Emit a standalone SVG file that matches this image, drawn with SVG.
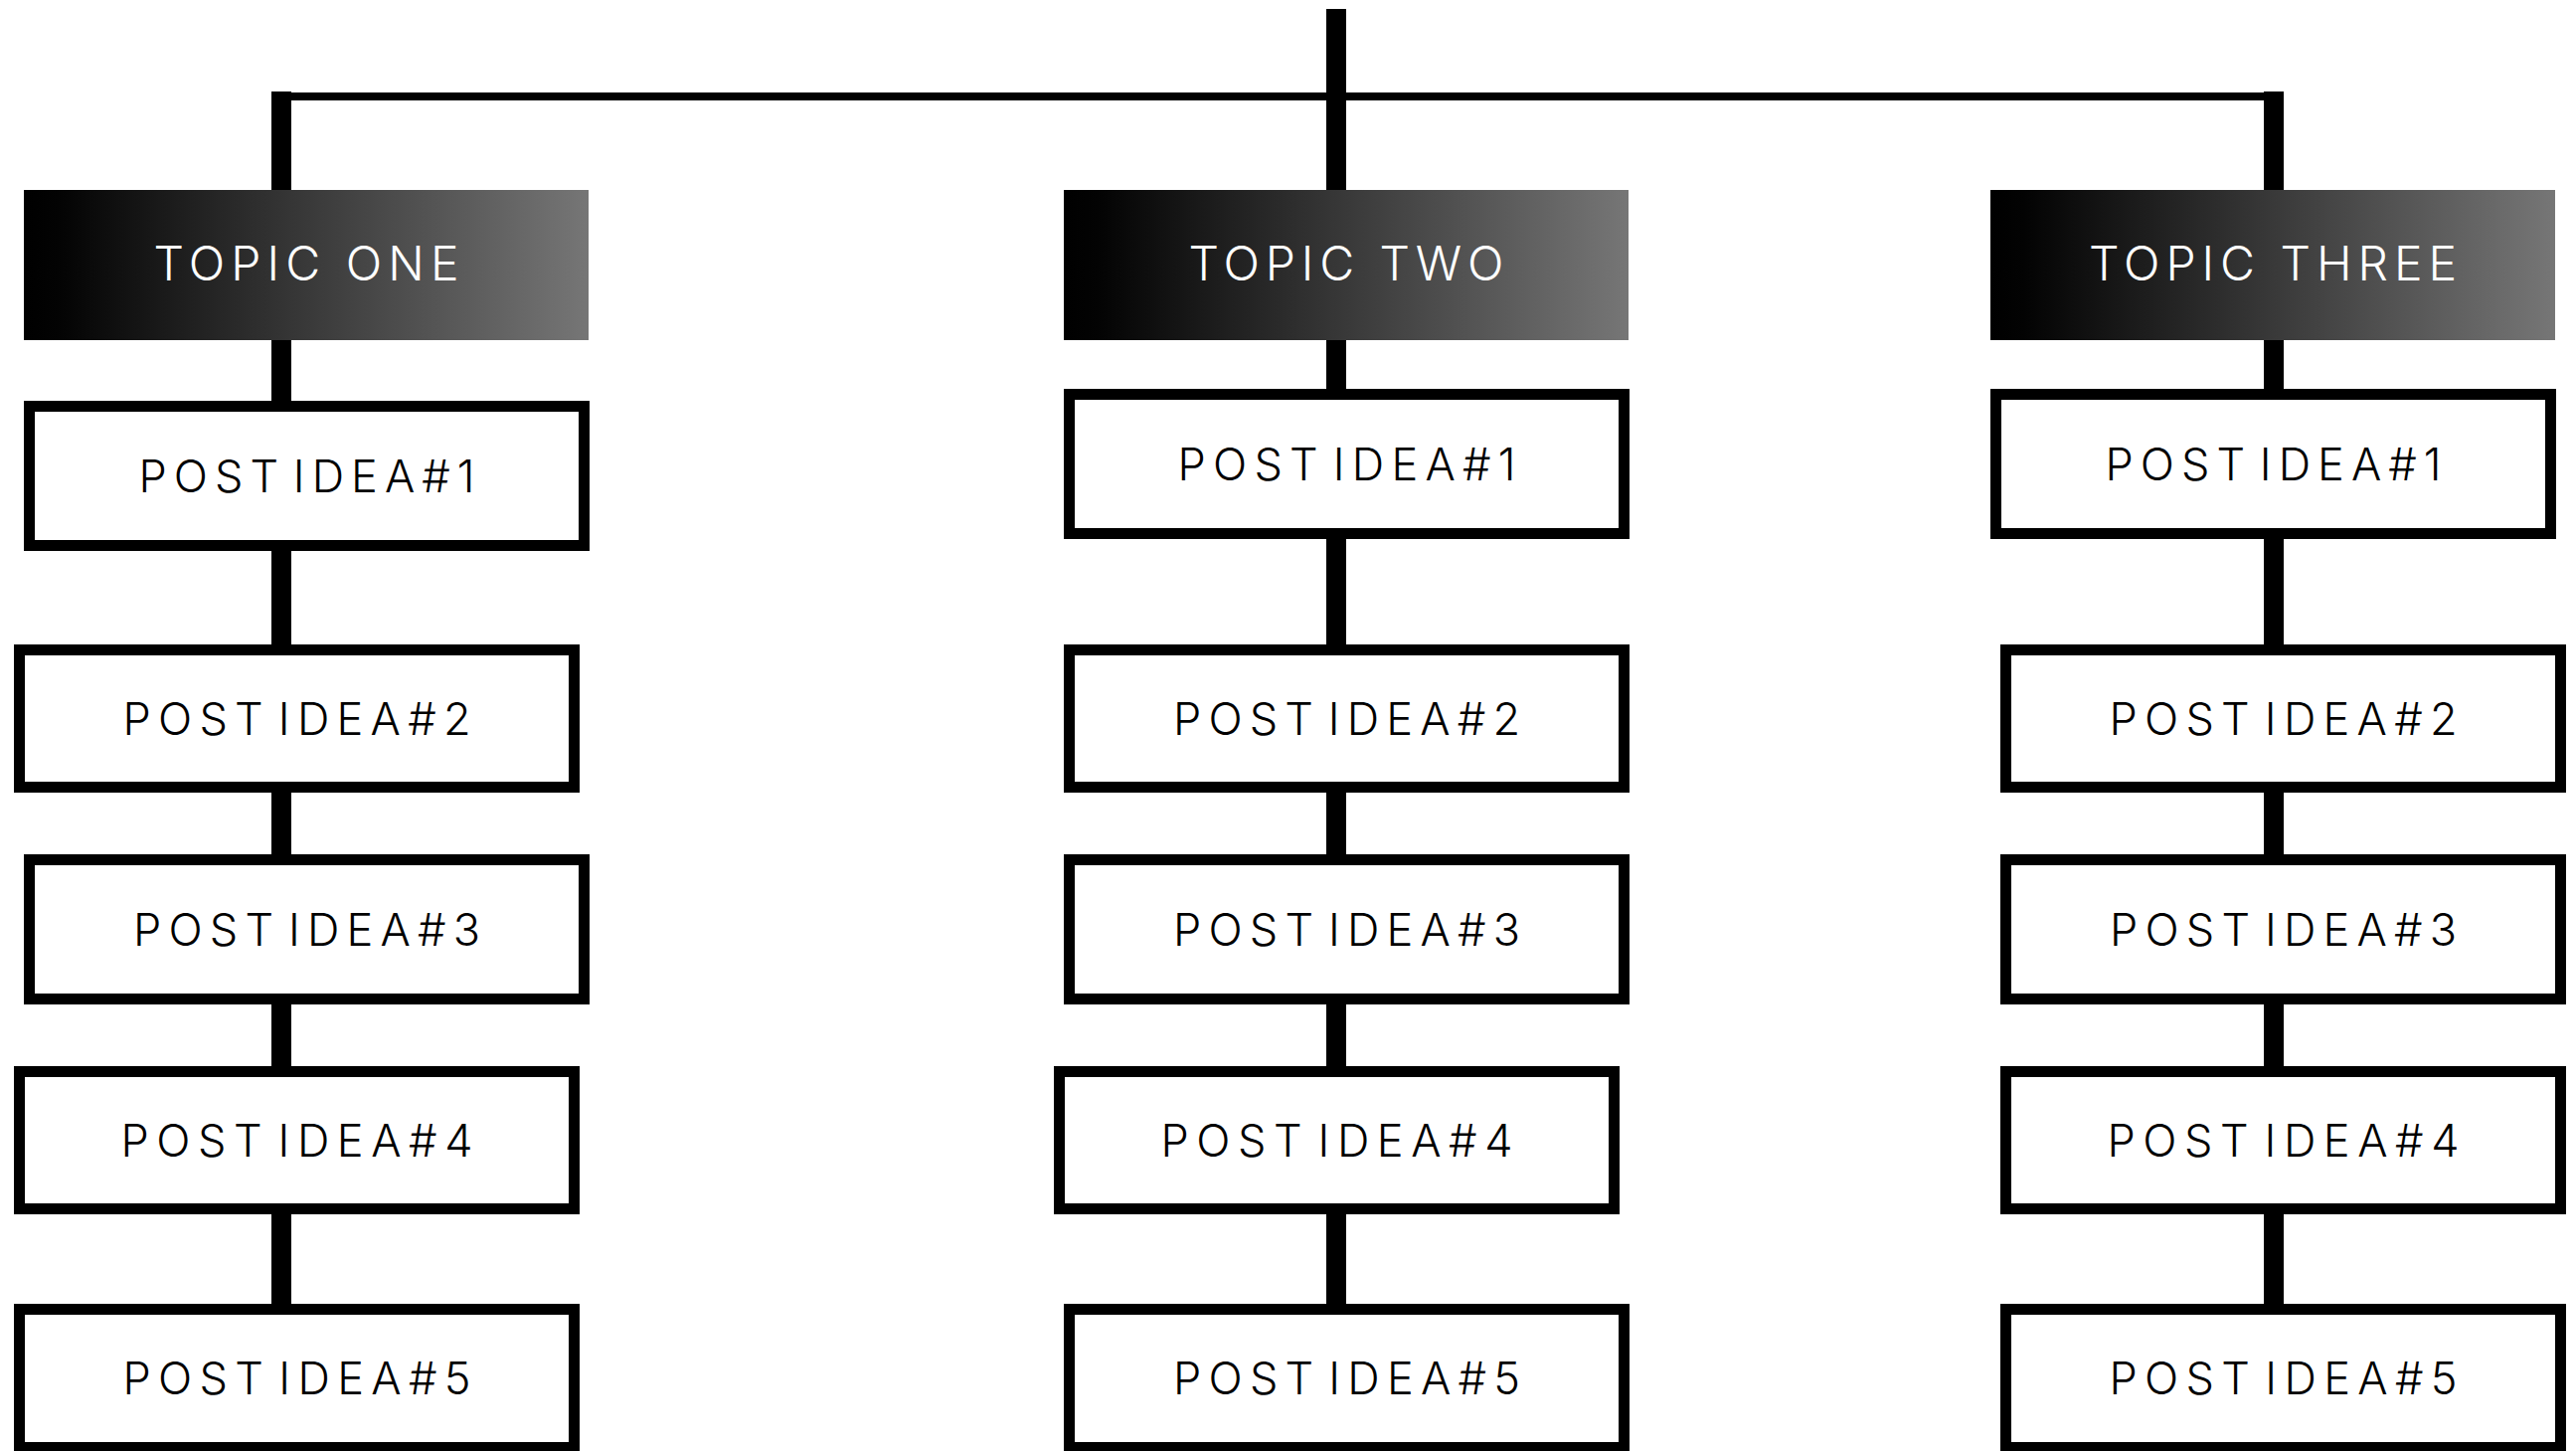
<svg xmlns="http://www.w3.org/2000/svg" width="2591" height="1459" viewBox="0 0 2591 1459">
  <defs>
    <linearGradient id="topicGrad" x1="0" y1="0" x2="1" y2="0">
      <stop offset="0" stop-color="#000000"/>
      <stop offset="0.06" stop-color="#030303"/>
      <stop offset="1" stop-color="#767676"/>
    </linearGradient>
  </defs>
  <style>
    .bg { fill: #ffffff; }
    .conn { fill: #000000; }
    .topic { fill: url(#topicGrad); }
    .post { fill: #ffffff; stroke: #000000; stroke-width: 11; }
    .tt { font-family: Inter, "Noto Sans", "Liberation Sans", sans-serif; font-size: 48px; fill: #ffffff; text-anchor: middle; font-weight: 300; }
    .pt { font-family: Inter, "Noto Sans", "Liberation Sans", sans-serif; font-size: 45px; fill: #000000; text-anchor: middle; font-weight: 300; word-spacing: -12px; }
  </style>
  <rect class="bg" x="0" y="0" width="2591" height="1459"/>

  <g id="connectors">
    <rect class="conn" x="273" y="93" width="2024" height="8"/>
    <rect class="conn" x="1334" y="9" width="20" height="1310"/>
    <rect class="conn" x="273" y="92" width="20" height="1227"/>
    <rect class="conn" x="2277" y="92" width="20" height="1227"/>
  </g>

  <g id="topic-one">
    <rect class="topic" x="24" y="191" width="568" height="151"/>
    <text class="tt" x="308" y="282" textLength="307" lengthAdjust="spacing">TOPIC ONE</text>
  </g>
  <g id="topic-two">
    <rect class="topic" x="1070" y="191" width="568" height="151"/>
    <text class="tt" x="1354" y="282" textLength="317" lengthAdjust="spacing">TOPIC TWO</text>
  </g>
  <g id="topic-three">
    <rect class="topic" x="2002" y="191" width="568" height="151"/>
    <text class="tt" x="2286" y="282" textLength="370" lengthAdjust="spacing">TOPIC THREE</text>
  </g>

  <!-- Column 1 -->
  <g id="c1-post1">
    <rect class="post" x="29.5" y="408.5" width="558" height="140"/>
    <text class="pt" x="308.5" y="494.5" textLength="338" lengthAdjust="spacing">POST IDEA#1</text>
  </g>
  <g id="c1-post2">
    <rect class="post" x="19.5" y="653.5" width="558" height="138"/>
    <text class="pt" x="298.5" y="738.5" textLength="350" lengthAdjust="spacing">POST IDEA#2</text>
  </g>
  <g id="c1-post3">
    <rect class="post" x="29.5" y="864.5" width="558" height="140"/>
    <text class="pt" x="308.5" y="950.5" textLength="349" lengthAdjust="spacing">POST IDEA#3</text>
  </g>
  <g id="c1-post4">
    <rect class="post" x="19.5" y="1077.5" width="558" height="138"/>
    <text class="pt" x="298.5" y="1163" textLength="354" lengthAdjust="spacing">POST IDEA#4</text>
  </g>
  <g id="c1-post5">
    <rect class="post" x="19.5" y="1316.5" width="558" height="139"/>
    <text class="pt" x="298.5" y="1402" textLength="350" lengthAdjust="spacing">POST IDEA#5</text>
  </g>

  <!-- Column 2 -->
  <g id="c2-post1">
    <rect class="post" x="1075.5" y="396.5" width="558" height="140"/>
    <text class="pt" x="1354.5" y="482.5" textLength="340" lengthAdjust="spacing">POST IDEA#1</text>
  </g>
  <g id="c2-post2">
    <rect class="post" x="1075.5" y="653.5" width="558" height="138"/>
    <text class="pt" x="1354.5" y="738.5" textLength="349" lengthAdjust="spacing">POST IDEA#2</text>
  </g>
  <g id="c2-post3">
    <rect class="post" x="1075.5" y="864.5" width="558" height="140"/>
    <text class="pt" x="1354.5" y="950.5" textLength="349" lengthAdjust="spacing">POST IDEA#3</text>
  </g>
  <g id="c2-post4">
    <rect class="post" x="1065.5" y="1077.5" width="558" height="138"/>
    <text class="pt" x="1344.5" y="1163" textLength="354" lengthAdjust="spacing">POST IDEA#4</text>
  </g>
  <g id="c2-post5">
    <rect class="post" x="1075.5" y="1316.5" width="558" height="139"/>
    <text class="pt" x="1354.5" y="1402" textLength="349" lengthAdjust="spacing">POST IDEA#5</text>
  </g>

  <!-- Column 3 -->
  <g id="c3-post1">
    <rect class="post" x="2007.5" y="396.5" width="558" height="140"/>
    <text class="pt" x="2286.5" y="482.5" textLength="338" lengthAdjust="spacing">POST IDEA#1</text>
  </g>
  <g id="c3-post2">
    <rect class="post" x="2017.5" y="653.5" width="558" height="138"/>
    <text class="pt" x="2296.5" y="738.5" textLength="350" lengthAdjust="spacing">POST IDEA#2</text>
  </g>
  <g id="c3-post3">
    <rect class="post" x="2017.5" y="864.5" width="558" height="140"/>
    <text class="pt" x="2296.5" y="950.5" textLength="349" lengthAdjust="spacing">POST IDEA#3</text>
  </g>
  <g id="c3-post4">
    <rect class="post" x="2017.5" y="1077.5" width="558" height="138"/>
    <text class="pt" x="2296.5" y="1163" textLength="354" lengthAdjust="spacing">POST IDEA#4</text>
  </g>
  <g id="c3-post5">
    <rect class="post" x="2017.5" y="1316.5" width="558" height="139"/>
    <text class="pt" x="2296.5" y="1402" textLength="350" lengthAdjust="spacing">POST IDEA#5</text>
  </g>
</svg>
